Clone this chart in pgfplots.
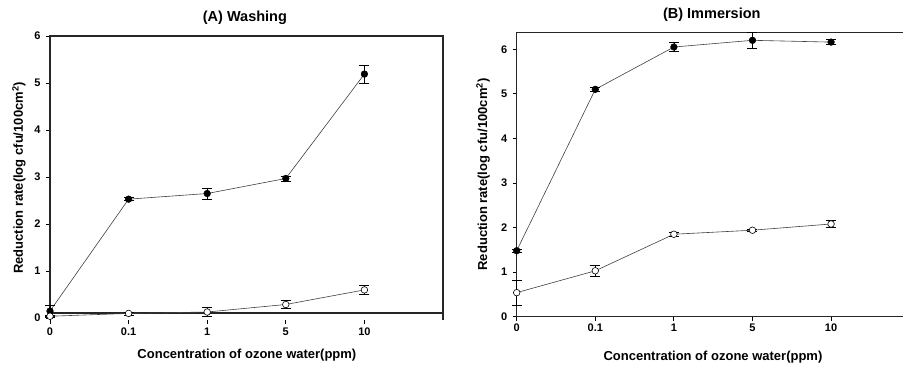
\documentclass[border=0pt]{standalone}
\usepackage{pgfplots}
\pgfplotsset{compat=1.18}
\usepackage{fontspec}
\setmainfont{Liberation Sans}
\begin{document}
\begin{tikzpicture}
\path[use as bounding box] (0pt,0pt) rectangle (903pt,370pt);
\pgfplotsset{
  myaxis/.style={
    scale only axis, anchor=south west, clip=false,
    xmin=0, xtick={0,1,2,3,4}, xticklabels={0,0.1,1,5,10},
    ytick={0,1,2,3,4,5,6},
    tick align=outside, xtick pos=bottom, ytick pos=left,
    major tick length=4pt,
    every tick/.style={black, line width=0.9pt},
    axis line style={draw=none},
    /pgf/number format/assume math mode=true,
    ticklabel style={font=\bfseries\fontsize{11}{12}\selectfont},
    yticklabel style={xshift=-2pt},
    label style={font=\bfseries\fontsize{13}{15}\selectfont},
    ylabel={Reduction rate(log cfu/100cm\textsuperscript{2})},
    xlabel={Concentration of ozone water(ppm)},
    error bars/y dir=both, error bars/y explicit,
    error bars/error bar style={black, line width=0.6pt},
    error bars/error mark options={rotate=90, mark size=5pt, line width=0.6pt, black},
  },
  filled/.style={draw=black!75, line width=0.6pt, mark=*, mark size=3.3pt,
    mark options={fill=black, draw=black, solid}},
  openc/.style={draw=black!75, line width=0.6pt, mark=*, mark size=3.3pt,
    mark options={fill=white, draw=black, solid}},
}
% Panel A
\begin{axis}[myaxis, at={(50pt,50pt)}, width=393pt, height=284pt,
  xmax=5, ymin=-0.04, ymax=6,
  xlabel style={at={(axis description cs:0.501,-0.123)}, anchor=center},
  ylabel style={at={(axis description cs:-0.079,0.5)}, anchor=center},
]
\draw[line width=1.2pt, black!85] (rel axis cs:0,0) -- (rel axis cs:0,1) -- (rel axis cs:1,1) -- (rel axis cs:1,0);
\draw[line width=1.2pt, black!85] (axis cs:0,0.11) -- (axis cs:5,0.11);
\node[font=\bfseries\fontsize{14.5}{17}\selectfont, anchor=center] at (axis description cs:0.496,1.063) {(A) Washing};
\addplot[filled] table[x=x, y=y, y error=e] {
x y e
0 0.15 0.12
1 2.53 0.03
2 2.65 0.12
3 2.97 0.05
4 5.19 0.19
};
\addplot[openc] table[x=x, y=y, y error=e] {
x y e
0 0.04 0.02
1 0.10 0.03
2 0.13 0.10
3 0.29 0.09
4 0.60 0.09
};
\end{axis}
% Panel B
\begin{axis}[myaxis, at={(516.7pt,53.3pt)}, width=386.3pt, height=284.4pt,
  xmax=4.915, ymin=0, ymax=6.38,
  xlabel style={at={(axis description cs:0.508,-0.141)}, anchor=center},
  ylabel style={at={(axis description cs:-0.087,0.5)}, anchor=center},
]
\draw[line width=1.2pt, black!85] (rel axis cs:1,0) -- (rel axis cs:0,0) -- (rel axis cs:0,1) -- (rel axis cs:1,1);
\node[font=\bfseries\fontsize{14.5}{17}\selectfont, anchor=center] at (axis description cs:0.505,1.061) {(B) Immersion};
\addplot[filled] table[x=x, y=y, y error=e] {
x y e
0 1.48 0.03
1 5.10 0.04
2 6.05 0.10
3 6.20 0.17
4 6.16 0.06
};
\addplot[openc] table[x=x, y=y, y error=e] {
x y e
0 0.54 0.28
1 1.03 0.12
2 1.85 0.05
3 1.94 0.03
4 2.08 0.08
};
\end{axis}
\end{tikzpicture}
\end{document}
